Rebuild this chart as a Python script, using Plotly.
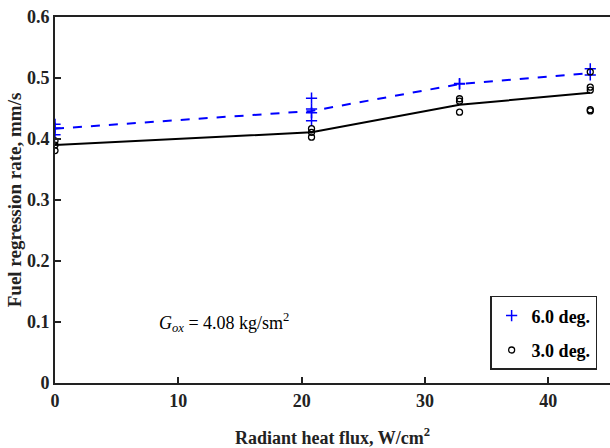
import plotly.graph_objects as go

# Measured points
x_6deg = [0, 0, 0, 20.8, 20.8, 20.8, 20.8, 32.8, 32.8, 43.4, 43.4]
y_6deg = [0.424, 0.418, 0.407, 0.467, 0.449, 0.443, 0.430, 0.490, 0.491, 0.515, 0.505]
x_3deg = [0, 0, 0, 20.8, 20.8, 20.8, 32.8, 32.8, 32.8, 43.4, 43.4, 43.4, 43.4, 43.4]
y_3deg = [0.397, 0.390, 0.381, 0.417, 0.411, 0.403, 0.466, 0.462, 0.444, 0.510, 0.485, 0.480, 0.448, 0.446]

# Mean curves
x_fit = [0, 20.8, 32.8, 43.4]
y_fit_6deg = [0.417, 0.446, 0.490, 0.508]
y_fit_3deg = [0.390, 0.411, 0.456, 0.476]

x_ticks = [0, 10, 20, 30, 40]
y_ticks = [0, 0.1, 0.2, 0.3, 0.4, 0.5, 0.6]
y_ticktext = ["0", "0.1", "0.2", "0.3", "0.4", "0.5", "0.6"]

FONT = "Liberation Serif"

fig = go.Figure()
fig.add_trace(go.Scatter(x=x_fit, y=y_fit_6deg, mode="lines",
                         line=dict(color="blue", width=2, dash="dash"),
                         showlegend=False, hoverinfo="skip"))
fig.add_trace(go.Scatter(x=x_fit, y=y_fit_3deg, mode="lines",
                         line=dict(color="black", width=2),
                         showlegend=False, hoverinfo="skip"))
fig.add_trace(go.Scatter(x=x_6deg, y=y_6deg, mode="markers", name="6.0 deg.",
                         legendgroup="a",
                         marker=dict(symbol="cross-thin", size=8,
                                     line=dict(color="blue", width=1.5), color="blue")))
fig.add_trace(go.Scatter(x=x_3deg, y=y_3deg, mode="markers", name="3.0 deg.",
                         legendgroup="b",
                         marker=dict(symbol="circle-open", size=6,
                                     line=dict(color="black", width=1.3), color="black")))

fig.add_annotation(x=8.3, y=0.1, xref="x", yref="y", xanchor="left", yanchor="middle",
                   text="<i>G</i><sub><i>ox</i></sub> = 4.08 kg/sm<sup>2</sup>",
                   showarrow=False, font=dict(family=FONT, size=18, color="black"))

axis_common = dict(showline=True, linecolor="#222", linewidth=2, mirror=True,
                   ticks="inside", ticklen=6, tickwidth=2, tickcolor="#222",
                   showgrid=False, zeroline=False, automargin=False,
                   tickfont=dict(family=FONT, size=18, color="#222", weight="bold"))

fig.update_layout(
    width=610, height=448,
    margin=dict(l=55, r=0, t=17, b=65, autoexpand=False),
    plot_bgcolor="white", paper_bgcolor="white",
    xaxis=dict(range=[0, 45], tickvals=x_ticks,
               title=dict(text="Radiant heat flux, W/cm<sup>2</sup>", standoff=22,
                          font=dict(family=FONT, size=18, color="#222", weight="bold")),
               **axis_common),
    yaxis=dict(range=[0, 0.6], tickvals=y_ticks, ticktext=y_ticktext,
               title=dict(text="Fuel regression rate, mm/s", standoff=0,
                          font=dict(family=FONT, size=19, color="#222", weight="bold")),
               **axis_common),
    legend=dict(x=0.784, y=0.238, xanchor="left", yanchor="top",
                bgcolor="white", bordercolor="#222", borderwidth=1.5,
                font=dict(family=FONT, size=18, color="black", weight="bold"),
                tracegroupgap=8, itemwidth=30),
)

fig.write_html("out.html", config={"displayModeBar": False},
               post_script="document.body.style.margin='0';document.body.style.overflow='hidden';")
